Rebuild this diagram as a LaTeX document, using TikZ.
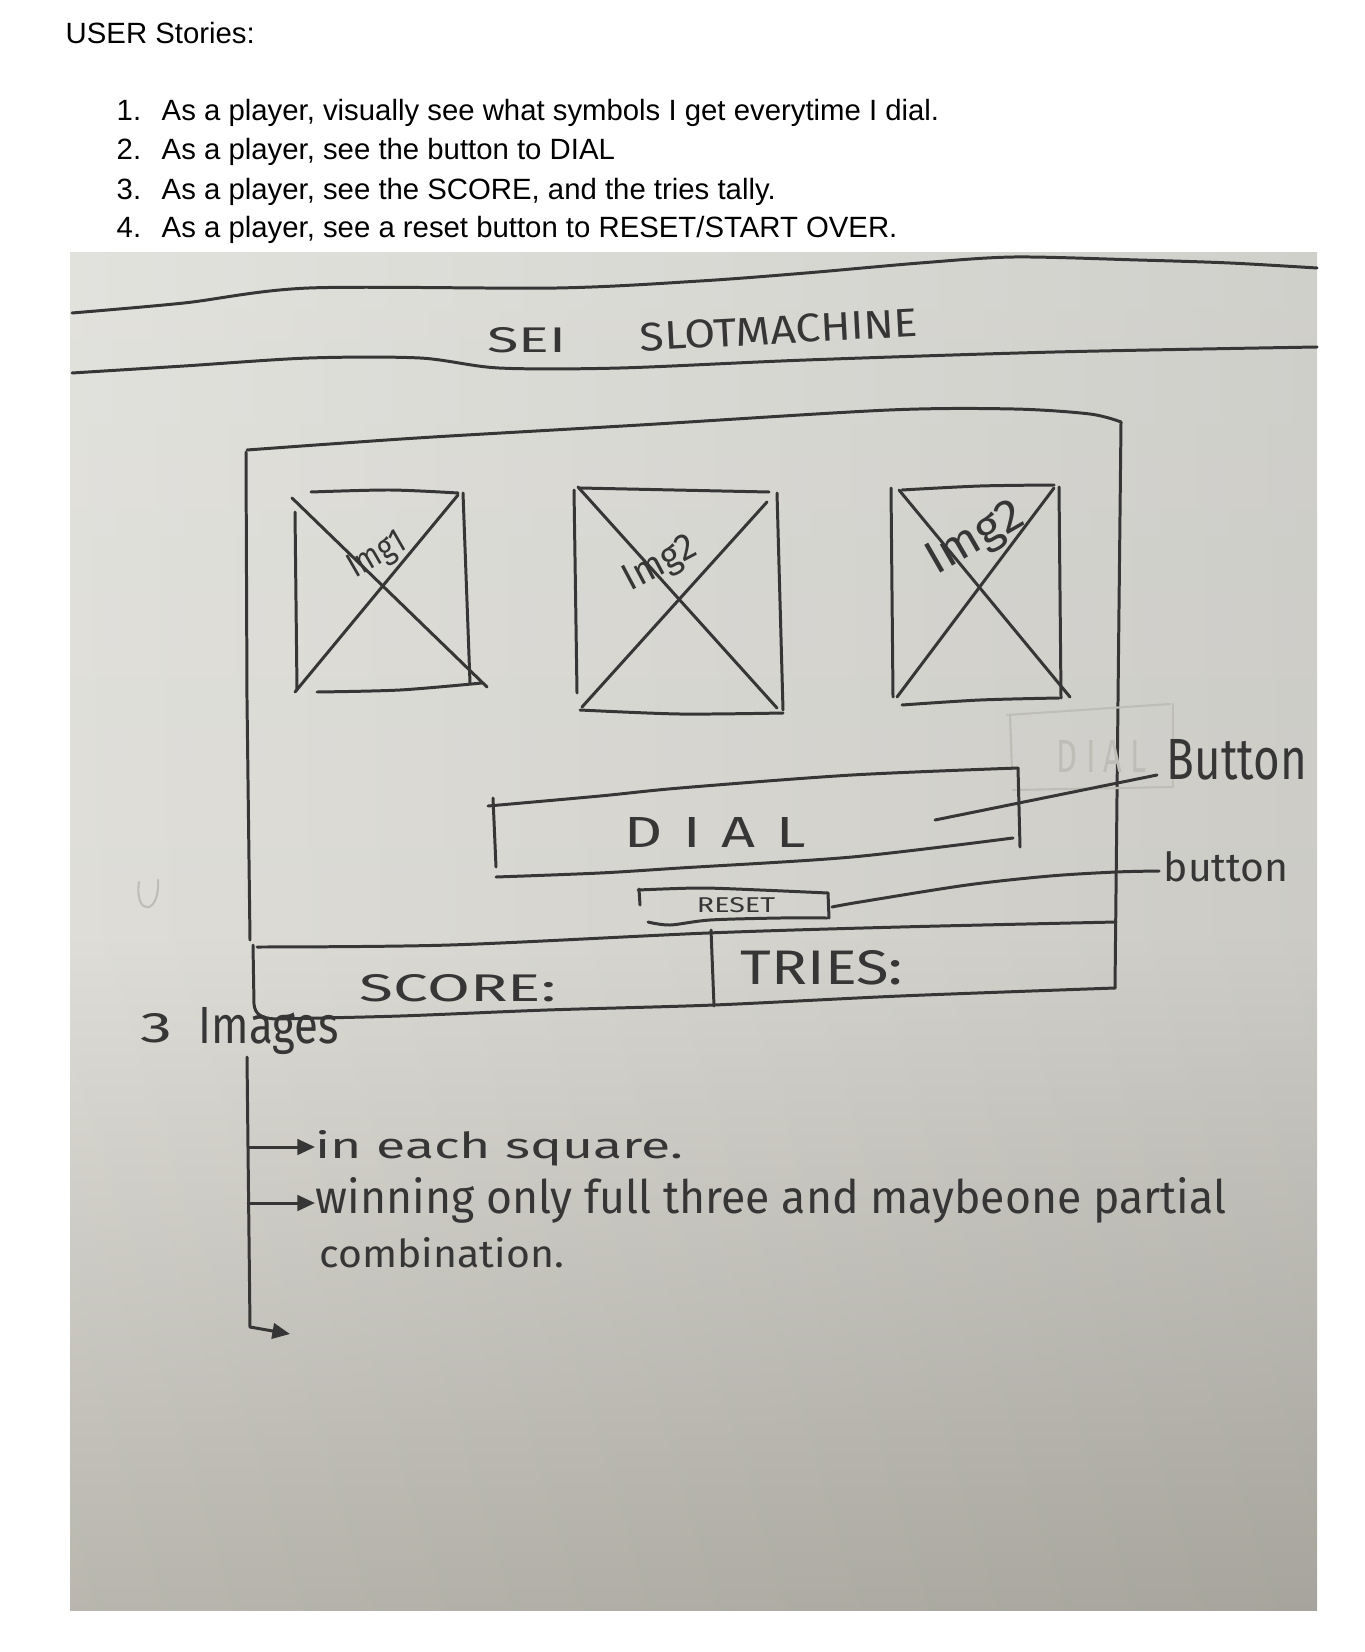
\documentclass[tikz,border=0pt]{standalone}
\usepackage{graphicx}
\usepackage{fontspec}
\setmainfont{Liberation Sans}
\newfontfamily\handfont{Fira Sans}
\usetikzlibrary{arrows.meta}
% hand-lettered label squeezed to a given width and height
\newcommand{\sketchtext}[3]{\resizebox{#1}{#2}{\handfont #3}}
\definecolor{pencil}{HTML}{363636}
\definecolor{faint}{HTML}{BEBEB7}
\definecolor{paperTop}{HTML}{E0E0DB}
\definecolor{paperMid}{HTML}{DCDBD5}
\definecolor{paperBot}{HTML}{B3B1A8}
\begin{document}
\begin{tikzpicture}[x=0.01cm,y=-0.01cm,
  stroke/.style={draw=pencil, line width=0.85pt, line cap=round, line join=round},
  ghost/.style={draw=faint, line width=0.6pt, line cap=round, line join=round},
  typed/.style={inner sep=0pt, anchor=base west, font=\fontsize{8.34pt}{10pt}\selectfont},
  hand/.style={inner sep=0pt, text=pencil},
  tip/.style={-{Triangle[length=5pt,width=4.4pt]}}
]
\useasboundingbox (0,0) rectangle (1364,1652);
\fill[white] (0,0) rectangle (1364,1652);

% ---- typed user stories ----
\node[typed] (head) at (65,44) {USER Stories:};
\node[typed] (n1) at (116,121) {1.};
\node[typed] (s1) at (161,121) {As a player, visually see what symbols I get everytime I dial.};
\node[typed] (n2) at (116,160) {2.};
\node[typed] (s2) at (161,160) {As a player, see the button to DIAL};
\node[typed] (n3) at (116,200) {3.};
\node[typed] (s3) at (161,200) {As a player, see the SCORE, and the tries tally.};
\node[typed] (n4) at (116,238) {4.};
\node[typed] (s4) at (161,238) {As a player, see a reset button to RESET/START OVER.};

% ---- sheet of paper ----
\shade[top color=paperTop, bottom color=paperBot, middle color=paperMid] (70,253) rectangle (1317,1610);
\shade[left color=white, right color=black, opacity=0.07] (70,253) rectangle (1317,1610);

% ---- header band ----
\draw[stroke] plot[smooth,tension=0.5] coordinates {(72,313) (184,303) (309,288) (557,288) (700,281) (806,273) (920,263) (1014,257) (1138,260) (1230,263) (1317,268)};
\draw[stroke] plot[smooth,tension=0.5] coordinates {(72,373) (184,366) (309,358) (420,358) (499,368) (620,368) (806,360) (1055,352) (1317,347)};
\node[hand] (sei) at (527,340) {\sketchtext{0.79cm}{0.25cm}{SEI}};
\node[hand, rotate=3] (slot) at (779,330) {\sketchtext{2.78cm}{0.28cm}{SLOTMACHINE}};

% ---- app window ----
\draw[stroke] plot[smooth,tension=0.5] coordinates {(247,450) (330,444) (433,437) (640,425) (889,410) (1014,409) (1090,414) (1121,422)};
\draw[stroke] (1121,422) -- (1118,700) -- (1115,988);
\draw[stroke] (246,452) -- (247,700) -- (250,940);
\draw[stroke] (253,945) -- (254,1004) .. controls (255,1015) and (262,1018) .. (275,1019);
\draw[stroke] plot[smooth,tension=0.5] coordinates {(275,1019) (400,1016) (547,1010) (714,1005) (900,996) (1115,988)};
\draw[stroke] plot[smooth,tension=0.5] coordinates {(257,947) (450,945) (708,933) (900,927) (1116,922)};
\draw[stroke] (711,930) -- (714,1006);

% ---- three image placeholders ----
% first
\draw[stroke] plot[smooth,tension=0.5] coordinates {(311,492) (390,490) (458,493)};
\draw[stroke] (295,512) -- (297,690);
\draw[stroke] (463,493) -- (470,683);
\draw[stroke] plot[smooth,tension=0.5] coordinates {(317,692) (400,690) (482,683)};
\draw[stroke] (292,498) -- (487,687);
\draw[stroke] (458,495) -- (295,692);
\node[hand, rotate=30] (img1) at (378,556) {\sketchtext{0.62cm}{0.24cm}{Img1}};
% second
\draw[stroke] (580,488) -- (769,492);
\draw[stroke] (574,490) -- (577,693);
\draw[stroke] (777,493) -- (783,710);
\draw[stroke] plot[smooth,tension=0.5] coordinates {(580,710) (680,714) (783,713)};
\draw[stroke] (578,487) -- (777,708);
\draw[stroke] (767,502) -- (582,707);
\node[hand, rotate=28] (img2) at (661,565) {\sketchtext{0.78cm}{0.26cm}{Img2}};
% third
\draw[stroke] plot[smooth,tension=0.5] coordinates {(902,490) (980,486) (1054,485)};
\draw[stroke] (891,488) -- (893,697);
\draw[stroke] (1059,487) -- (1061,698);
\draw[stroke] plot[smooth,tension=0.5] coordinates {(902,705) (980,700) (1059,698)};
\draw[stroke] (899,490) -- (1070,697);
\draw[stroke] (1054,488) -- (897,697);
\node[hand, rotate=30] (img3) at (976,540) {\sketchtext{1.05cm}{0.32cm}{Img2}};

% ---- erased first try of the dial button ----
\draw[ghost] (1007,715) -- (1170,704);
\draw[ghost] (1010,715) -- (1012,770);
\draw[ghost] (1173,704) -- (1173,787);
\draw[ghost] (1013,790) -- (1173,787);
\node[inner sep=0pt, text=faint] (ghostdial) at (1102,756) {\sketchtext{0.90cm}{0.32cm}{D\hspace{0.25em}I\hspace{0.25em}A\hspace{0.25em}L}};

% ---- dial button ----
\draw[stroke] plot[smooth,tension=0.5] coordinates {(488,806) (600,796) (680,788) (852,775) (1018,768)};
\draw[stroke] (493,798) -- (496,867);
\draw[stroke] plot[smooth,tension=0.5] coordinates {(496,877) (600,873) (680,868) (852,857) (1013,838)};
\draw[stroke] (1018,768) -- (1020,847);
\node[hand] (dial) at (715,832) {\sketchtext{1.81cm}{0.30cm}{D\hspace{0.35em}I\hspace{0.35em}A\hspace{0.35em}L}};

% ---- reset button ----
\draw[stroke] plot[smooth,tension=0.5] coordinates {(638,890) (700,888) (760,890) (828,893)};
\draw[stroke] (639,889) -- (640,905);
\draw[stroke] (828,893) -- (829,918);
\draw[stroke] plot[smooth,tension=0.5] coordinates {(648,922) (670,925) (710,920) (780,918) (827,918)};
\node[hand] (reset) at (736,905) {\sketchtext{0.78cm}{0.15cm}{RESET}};

% ---- callouts ----
\node[hand, anchor=base west] (btnA) at (1166,779) {\sketchtext{1.40cm}{0.40cm}{Button}};
\node[hand, anchor=base west] (btnB) at (1163,881) {\sketchtext{1.25cm}{0.30cm}{button}};
\coordinate (dialLead) at (935,820);
\coordinate (btnAend) at (1157,775);
\coordinate (resetLead) at (832,907);
\coordinate (btnBend) at (1159,871);
\draw[stroke] (dialLead) -- (btnAend);
\draw[stroke] plot[smooth,tension=0.5] coordinates {(resetLead) (860,902) (967,885) (1050,876) (1116,872) (btnBend)};

% ---- score / tries ----
\node[hand] (score) at (458,988) {\sketchtext{1.96cm}{0.27cm}{SCORE:}};
\node[hand] (tries) at (822,968) {\sketchtext{1.62cm}{0.34cm}{TRIES:}};

% ---- notes ----
\draw[ghost] (139,882) .. controls (134,916) and (160,916) .. (158,880);
\node[hand, anchor=base west] (three) at (140,1042) {\sketchtext{0.32cm}{0.29cm}{3}};
\node[hand, anchor=base west] (images) at (198,1043) {\sketchtext{1.40cm}{0.36cm}{Images}};
\coordinate (treeTop) at (247,1057);
\coordinate (treeBot) at (250,1327);
\coordinate (treeEnd) at (290,1334);
\draw[stroke] (treeTop) -- (treeBot);
\draw[stroke, tip] (treeBot) -- (treeEnd);
\node[hand, anchor=base west] (note1) at (315,1158) {\sketchtext{3.67cm}{0.28cm}{in each square.}};
\node[hand, anchor=base west] (note2) at (315,1213) {\sketchtext{9.10cm}{0.36cm}{winning only full three and maybeone partial}};
\node[hand, anchor=base west] (note3) at (319,1267) {\sketchtext{2.44cm}{0.30cm}{combination.}};
\coordinate (b1) at (248,1147);
\coordinate (b2) at (248,1203);
\draw[stroke, tip] (b1) -- (note1.base west |- 300,1147);
\draw[stroke, tip] (b2) -- (note2.base west |- 300,1203);
\end{tikzpicture}
\end{document}
